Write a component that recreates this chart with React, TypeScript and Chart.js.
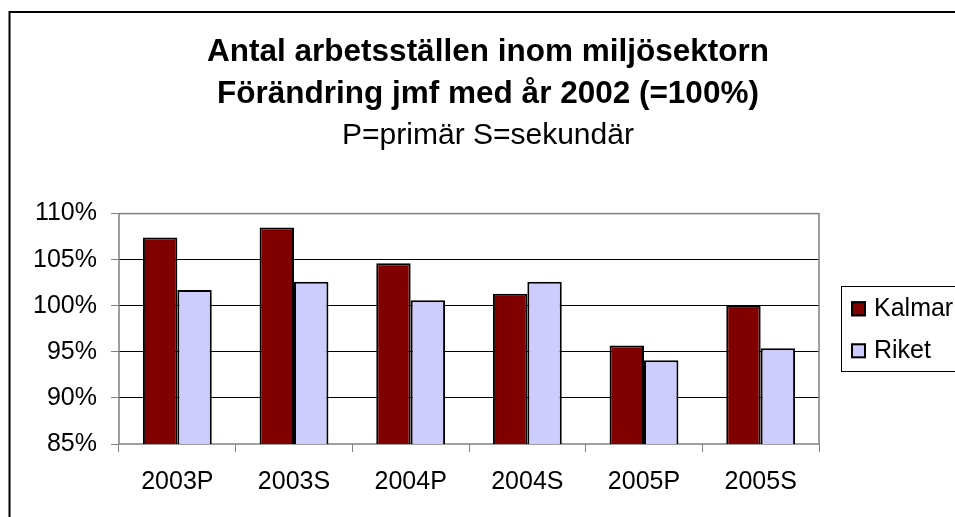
import React, { useEffect, useRef } from 'react';
import { Chart, registerables } from 'chart.js';

Chart.register(...registerables);

const categories = ['2003P', '2003S', '2004P', '2004S', '2005P', '2005S'];
const kalmarValues = [107.4, 108.5, 104.6, 101.3, 95.7, 100.0];
const riketValues = [101.7, 102.6, 100.6, 102.6, 94.1, 95.4];
const seriesNames = ['Kalmar', 'Riket'];
const seriesColors = ['#800000', '#CCCCFF'];
const titleLines = ['Antal arbetsställen inom miljösektorn', 'Förändring jmf med år 2002 (=100%)'];
const subtitleText = 'P=primär S=sekundär';
const yMin = 85;
const yMax = 110;
const yStep = 5;

const FONT = '"Liberation Sans", Arial, Helvetica, sans-serif';
const CANVAS_W = 976;
const CANVAS_H = 517;

const framePlugin = {
  id: 'excelFrame',
  beforeDraw(chart: any) {
    const ctx = chart.ctx;
    ctx.save();
    ctx.fillStyle = '#ffffff';
    ctx.fillRect(0, 0, chart.width, chart.height);
    ctx.strokeStyle = '#000000';
    ctx.lineWidth = 2;
    ctx.beginPath();
    ctx.moveTo(9.5, chart.height + 5);
    ctx.lineTo(9.5, 12);
    ctx.lineTo(chart.width + 5, 12);
    ctx.stroke();
    ctx.restore();
  },
  beforeDatasetsDraw(chart: any) {
    const { ctx, chartArea: a } = chart;
    ctx.save();
    ctx.strokeStyle = '#808080';
    ctx.lineWidth = 1.5;
    ctx.strokeRect(a.left, a.top, a.right - a.left, a.bottom - a.top);
    ctx.restore();
  },
  afterDraw(chart: any) {
    const { ctx, chartArea: a } = chart;
    const cy = (a.top + a.bottom) / 2;
    ctx.save();
    ctx.strokeStyle = '#000000';
    ctx.lineWidth = 1;
    ctx.strokeRect(Math.round(a.right + 22) + 0.5, Math.round(cy - 43) + 0.5, chart.width, 85);
    const rows = [cy - 20, cy + 22];
    chart.data.datasets.forEach((ds: any, i: number) => {
      const y = rows[i];
      const mx = a.right + 32;
      ctx.fillStyle = ds.backgroundColor;
      ctx.fillRect(mx, y - 7.5, 15, 15);
      ctx.lineWidth = 2;
      ctx.strokeStyle = '#000000';
      ctx.strokeRect(mx + 1, y - 6.5, 13, 13);
      ctx.fillStyle = '#000000';
      ctx.font = `25px ${FONT}`;
      ctx.textBaseline = 'middle';
      ctx.textAlign = 'left';
      ctx.fillText(ds.label, a.right + 55, y);
    });
    ctx.restore();
  },
};

export default function App() {
  const canvasRef = useRef<HTMLCanvasElement | null>(null);

  useEffect(() => {
    if (!canvasRef.current) return;
    const chart = new Chart(canvasRef.current, {
      type: 'bar',
      data: {
        labels: categories,
        datasets: [
          {
            label: seriesNames[0],
            data: kalmarValues,
            backgroundColor: seriesColors[0],
            borderColor: '#000000',
            borderWidth: 2,
            borderSkipped: false,
            categoryPercentage: 0.59,
            barPercentage: 1.0,
          },
          {
            label: seriesNames[1],
            data: riketValues,
            backgroundColor: seriesColors[1],
            borderColor: '#000000',
            borderWidth: 2,
            borderSkipped: false,
            categoryPercentage: 0.59,
            barPercentage: 1.0,
          },
        ],
      },
      options: {
        animation: false,
        responsive: true,
        maintainAspectRatio: false,
        devicePixelRatio: 1,
        layout: { padding: 0 },
        plugins: {
          legend: { display: false },
          tooltip: { enabled: false },
          title: {
            display: true,
            text: titleLines,
            color: '#000000',
            font: { family: FONT, size: 31.5, weight: 'bold', lineHeight: 1.343 },
            padding: { top: 31, bottom: 0 },
          },
          subtitle: {
            display: true,
            text: subtitleText,
            color: '#000000',
            font: { family: FONT, size: 30, weight: 'normal', lineHeight: 1.2 },
            padding: { top: 2, bottom: 60 },
          },
        },
        scales: {
          x: {
            grid: {
              display: true,
              drawOnChartArea: false,
              drawTicks: true,
              tickLength: 8,
              tickColor: '#808080',
              offset: true,
            },
            border: { display: false },
            ticks: {
              color: '#000000',
              font: { family: FONT, size: 25 },
              padding: 15,
              maxRotation: 0,
              autoSkip: false,
            },
            afterFit: (s: any) => {
              s.height = 73;
            },
          },
          y: {
            min: yMin,
            max: yMax,
            ticks: {
              stepSize: yStep,
              color: '#000000',
              font: { family: FONT, size: 25 },
              padding: 14,
              callback: (v: any) => `${v}%`,
            },
            grid: {
              color: (c: any) =>
                c.tick && (c.tick.value === yMax || c.tick.value === yMin) ? 'rgba(0,0,0,0)' : '#000000',
              lineWidth: 1,
              tickLength: 8,
              tickColor: '#808080',
            },
            border: { display: false },
            afterFit: (s: any) => {
              s.width = 119;
            },
          },
          yRight: {
            type: 'linear',
            position: 'right',
            display: true,
            grid: { display: false, drawTicks: false },
            border: { display: false },
            ticks: { display: false },
            afterFit: (s: any) => {
              s.width = s.chart.width - 819;
            },
          },
        },
      },
      plugins: [framePlugin],
    } as any);
    return () => chart.destroy();
  }, []);

  return (
    <div
      style={{
        position: 'fixed',
        left: 0,
        top: 0,
        width: 955,
        height: 517,
        overflow: 'hidden',
        background: '#ffffff',
      }}
    >
      <div style={{ position: 'absolute', left: 0, top: 0, width: CANVAS_W, height: CANVAS_H }}>
        <canvas ref={canvasRef} />
      </div>
    </div>
  );
}
